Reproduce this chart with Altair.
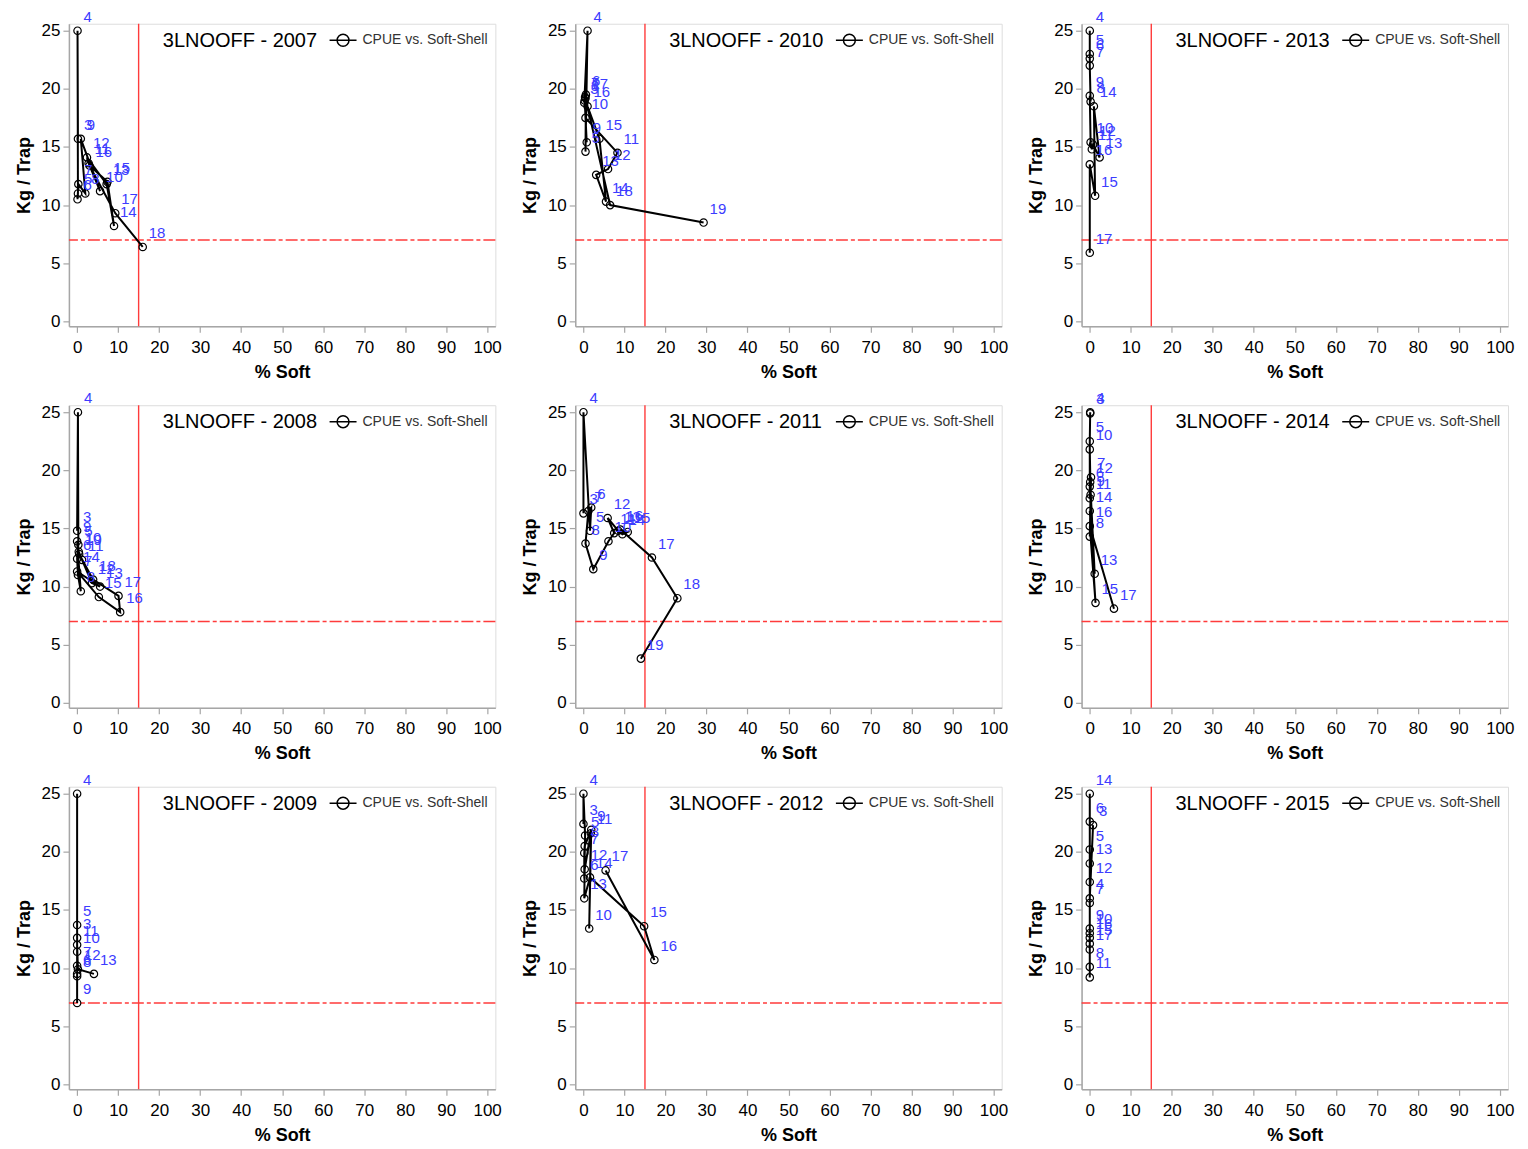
import altair as alt
import pandas as pd

series_name = "CPUE vs. Soft-Shell"
area_name = "3LNOOFF"
soft_threshold = [15]
cpue_threshold = [7]
x_ticks = [0, 10, 20, 30, 40, 50, 60, 70, 80, 90, 100]
y_ticks = [0, 5, 10, 15, 20, 25]

# ---- data (week, % soft-shell, kg/trap) ----
weeks_2007 = [3, 4, 5, 6, 7, 8, 9, 10, 11, 12, 13, 14, 15, 16, 17, 18]
soft_2007 = [0.2, 0.1, 0.2, 0.1, 0.3, 2.0, 0.9, 5.6, 2.8, 2.4, 7.2, 9.0, 7.4, 3.0, 9.3, 16.0]
cpue_2007 = [15.7, 25.0, 11.0, 10.5, 11.8, 11.0, 15.7, 11.2, 13.6, 14.1, 11.8, 8.2, 12.0, 13.4, 9.3, 6.4]

weeks_2008 = [3, 4, 5, 6, 7, 8, 9, 10, 11, 12, 13, 14, 15, 16, 17, 18, 19]
soft_2008 = [0.0, 0.2, 0.3, 0.0, 0.2, 0.9, 0.0, 0.4, 1.2, 3.6, 5.6, 0.0, 5.3, 10.5, 10.1, 3.9, 0.5]
cpue_2008 = [14.8, 25.0, 13.6, 12.4, 11.0, 9.6, 13.9, 13.0, 12.3, 10.3, 10.0, 11.3, 9.1, 7.8, 9.2, 10.6, 12.8]

weeks_2009 = [3, 4, 5, 6, 7, 8, 9, 10, 11, 12, 13]
soft_2009 = [0.0, 0.0, 0.0, 0.0, 0.0, 0.0, 0.0, 0.0, 0.0, 0.2, 4.1]
cpue_2009 = [12.6, 25.0, 13.7, 9.5, 10.2, 9.3, 7.0, 11.4, 12.0, 9.9, 9.5]

weeks_2010 = [3, 4, 5, 6, 7, 8, 9, 10, 11, 12, 13, 14, 15, 16, 17, 18, 19]
soft_2010 = [0.2, 1.0, 0.5, 0.6, 0.4, 0.3, 0.8, 0.5, 8.3, 6.0, 3.1, 5.5, 3.9, 1.0, 0.5, 6.5, 29.3]
cpue_2010 = [18.8, 25.0, 14.6, 19.5, 19.3, 19.0, 15.4, 17.5, 14.5, 13.1, 12.6, 10.3, 15.7, 18.5, 19.2, 10.0, 8.5]

weeks_2011 = [3, 4, 5, 6, 7, 8, 9, 10, 11, 12, 13, 14, 15, 16, 17, 18, 19]
soft_2011 = [0.0, 0.0, 1.6, 1.9, 1.2, 0.5, 2.4, 6.1, 7.5, 5.9, 8.5, 9.5, 10.8, 9.0, 16.7, 22.9, 14.0]
cpue_2011 = [16.3, 25.0, 14.8, 16.8, 16.5, 13.7, 11.5, 13.9, 14.6, 15.9, 14.8, 14.5, 14.7, 14.9, 12.5, 9.0, 3.8]

weeks_2012 = [3, 4, 5, 6, 7, 8, 9, 10, 11, 12, 13, 14, 15, 16, 17]
soft_2012 = [0.0, 0.0, 0.4, 0.2, 0.2, 0.3, 1.9, 1.4, 1.8, 0.3, 0.2, 1.6, 14.8, 17.3, 5.4]
cpue_2012 = [22.4, 25.0, 21.4, 17.7, 19.9, 20.5, 21.9, 13.4, 21.6, 18.5, 16.0, 17.8, 13.6, 10.7, 18.4]

weeks_2013 = [4, 5, 6, 7, 8, 9, 10, 11, 12, 13, 14, 15, 16, 17]
soft_2013 = [0.0, 0.0, 0.0, 0.0, 0.2, 0.0, 0.2, 0.5, 0.8, 2.4, 1.0, 1.3, 0.0, 0.0]
cpue_2013 = [25.0, 23.0, 22.6, 22.0, 18.9, 19.4, 15.4, 14.8, 15.2, 14.1, 18.5, 10.8, 13.5, 5.9]

weeks_2014 = [3, 4, 5, 6, 7, 8, 9, 10, 11, 12, 13, 14, 15, 16, 17]
soft_2014 = [0.1, 0.1, 0.0, 0.0, 0.3, 0.0, 0.2, 0.0, 0.0, 0.1, 1.2, 0.0, 1.4, 0.0, 5.9]
cpue_2014 = [24.9, 25.0, 22.5, 18.6, 19.4, 14.3, 17.9, 21.8, 17.6, 19.0, 11.1, 16.5, 8.6, 15.2, 8.1]

weeks_2015 = [3, 4, 5, 6, 7, 8, 9, 10, 11, 12, 13, 14, 15, 16, 17]
soft_2015 = [0.8, 0.0, 0.0, 0.0, 0.0, 0.0, 0.0, 0.0, 0.0, 0.0, 0.0, 0.0, 0.0, 0.0, 0.0]
cpue_2015 = [22.3, 16.0, 20.2, 22.6, 15.6, 10.1, 13.4, 13.0, 9.2, 17.4, 19.0, 25.0, 12.1, 12.6, 11.6]

years = {
    2007: (weeks_2007, soft_2007, cpue_2007),
    2008: (weeks_2008, soft_2008, cpue_2008),
    2009: (weeks_2009, soft_2009, cpue_2009),
    2010: (weeks_2010, soft_2010, cpue_2010),
    2011: (weeks_2011, soft_2011, cpue_2011),
    2012: (weeks_2012, soft_2012, cpue_2012),
    2013: (weeks_2013, soft_2013, cpue_2013),
    2014: (weeks_2014, soft_2014, cpue_2014),
    2015: (weeks_2015, soft_2015, cpue_2015),
}
# reference grid: columns 2007-09 / 2010-12 / 2013-15, listed row by row
grid_order = [2007, 2010, 2013, 2008, 2011, 2014, 2009, 2012, 2015]

FONT = "Liberation Sans"
AXIS_GRAY = "#a6a6a6"
RED = "#ff3b3b"
BLUE = "#3c3cff"

legend_symbol = ("M-1,0L1,0M0.44,0A0.44,0.44,0,1,1,-0.44,0"
                 "A0.44,0.44,0,1,1,0.44,0")

x_scale = alt.Scale(domain=[-2, 102], nice=False, zero=False)
y_scale = alt.Scale(domain=[-0.43, 25.6], nice=False, zero=False)

x_axis = alt.Axis(values=x_ticks, title="% Soft", grid=False,
                  domainColor=AXIS_GRAY, tickColor=AXIS_GRAY, domainWidth=1.5,
                  tickWidth=1.2, tickSize=6, labelFontSize=17, labelColor="black",
                  labelPadding=7, titleFontSize=18, titleFontWeight="bold",
                  titlePadding=8, labelFont=FONT, titleFont=FONT)
y_axis = alt.Axis(values=y_ticks, title="Kg / Trap", grid=False,
                  domainColor=AXIS_GRAY, tickColor=AXIS_GRAY, domainWidth=1.5,
                  tickWidth=1.2, tickSize=6, labelFontSize=17, labelColor="black",
                  labelPadding=3, titleFontSize=18, titleFontWeight="bold",
                  titlePadding=8, labelFont=FONT, titleFont=FONT)


def panel(year):
    weeks, soft, cpue = years[year]
    df = pd.DataFrame({"week": weeks, "soft": soft, "cpue": cpue,
                       "series": [series_name] * len(weeks)})
    base = alt.Chart(df).encode(
        x=alt.X("soft:Q", scale=x_scale, axis=x_axis),
        y=alt.Y("cpue:Q", scale=y_scale, axis=y_axis),
    )
    vrule = alt.Chart(pd.DataFrame({"soft": soft_threshold})).mark_rule(
        color=RED, strokeWidth=1.4
    ).encode(x=alt.X("soft:Q", scale=x_scale, axis=x_axis))
    hrule = alt.Chart(pd.DataFrame({"cpue": cpue_threshold})).mark_rule(
        color=RED, strokeWidth=1.4, strokeDash=[12, 3, 4, 3]
    ).encode(y=alt.Y("cpue:Q", scale=y_scale, axis=y_axis))
    line = base.mark_line(strokeWidth=2).encode(
        order="week:Q",
        color=alt.Color(
            "series:N",
            scale=alt.Scale(range=["black"]),
            legend=alt.Legend(
                orient="none", legendX=260, legendY=2, title=None, padding=0,
                symbolType=legend_symbol, symbolSize=729, symbolStrokeWidth=1.5,
                symbolStrokeColor="black", symbolFillColor="transparent",
                labelFontSize=14, labelFont=FONT, labelColor="#333333",
                labelOffset=5,
            ),
        ),
    )
    points = base.mark_point(shape="circle", filled=False, color="black",
                             size=55, strokeWidth=1.2, opacity=1)
    labels = base.mark_text(align="left", baseline="middle", dx=6, dy=-14,
                            color=BLUE, fontSize=15, font=FONT).encode(text="week:Q")
    return alt.layer(vrule, hrule, line, points, labels).properties(
        width=427, height=303,
        title=alt.TitleParams(
            text=f"{area_name} - {year}", anchor="start", frame="group",
            orient="top", dx=94, dy=57, offset=0, fontSize=20, font=FONT,
            fontWeight="normal", color="black", baseline="alphabetic",
        ),
    )


chart = alt.concat(
    *[panel(y) for y in grid_order], columns=3,
    spacing=alt.RowColnumber(row=79, column=80),
).properties(
    bounds="flush", padding={"left": 6, "top": 0, "right": 5, "bottom": 5}
).resolve_legend(color="independent").configure_view(stroke=None).configure(
    font=FONT
)

chart.save("out.html", embed_options={"renderer": "svg", "actions": False})
